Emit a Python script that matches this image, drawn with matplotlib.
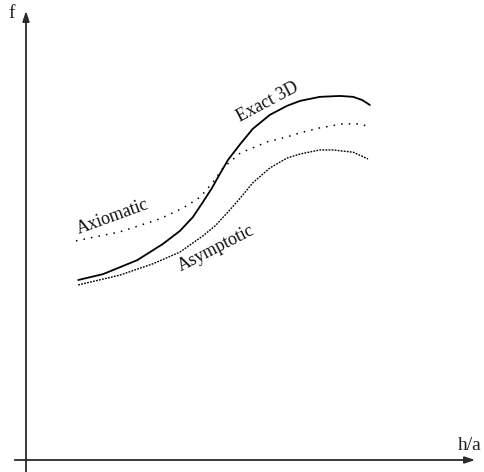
import matplotlib
matplotlib.use("Agg")
import matplotlib.pyplot as plt

# Data (arbitrary units, h/a horizontal, f vertical)
exact_x = [1.16, 1.71, 2.47, 3.04, 3.42, 3.71, 3.93, 4.13, 4.31, 4.49, 4.76, 5.04,
           5.42, 5.80, 6.09, 6.53, 6.98, 7.27, 7.47, 7.64]
exact_y = [4.00, 4.13, 4.44, 4.80, 5.09, 5.40, 5.73, 6.04, 6.36, 6.67, 7.02, 7.36,
           7.67, 7.87, 7.98, 8.07, 8.09, 8.07, 8.00, 7.89]

axiom_x = [1.11, 2.09, 2.98, 3.49, 3.87, 4.16, 4.38, 4.76, 5.36, 5.80, 6.09, 6.53,
           7.04, 7.42, 7.64]
axiom_y = [4.87, 5.07, 5.36, 5.60, 5.84, 6.18, 6.49, 6.82, 7.07, 7.18, 7.27, 7.38,
           7.47, 7.47, 7.40]

asym_x = [1.16, 2.09, 2.82, 3.42, 3.93, 4.20, 4.47, 4.76, 5.04, 5.42, 5.80, 6.09,
          6.53, 6.82, 7.27, 7.60]
asym_y = [3.89, 4.11, 4.36, 4.62, 4.98, 5.20, 5.49, 5.82, 6.16, 6.49, 6.71, 6.80,
          6.89, 6.89, 6.84, 6.69]

labels = ["Exact 3D", "Axiomatic", "Asymptotic"]
xlabel = "h/a"
ylabel = "f"

fig = plt.figure(figsize=(4.84, 4.72), dpi=100)
ax = fig.add_axes([0, 0, 1, 1])
ax.set_xlim(-26 / 45, (484 - 26) / 45)
ax.set_ylim((460 - 472) / 45, 460 / 45)
ax.axis("off")

axcol = "#2a2a2a"
# axes with arrows
ax.annotate("", xy=(0, 9.98), xytext=(0, -0.3),
            arrowprops=dict(arrowstyle="-|>,head_length=0.6,head_width=0.2",
                            color=axcol, lw=1.3, shrinkA=0, shrinkB=0))
ax.annotate("", xy=(9.98, 0), xytext=(-0.25, 0),
            arrowprops=dict(arrowstyle="-|>,head_length=0.6,head_width=0.2",
                            color=axcol, lw=1.3, shrinkA=0, shrinkB=0))

font = "Liberation Serif"
ax.text(-0.31, 9.93, ylabel, fontsize=14, family=font, ha="center", va="center", color="#222")
ax.text(9.85, 0.33, xlabel, fontsize=14, family=font, ha="center", va="center", color="#222")

ax.plot(exact_x, exact_y, color="black", lw=1.3, solid_capstyle="round",
        solid_joinstyle="round")
ax.plot(axiom_x, axiom_y, color="black", lw=1.1, linestyle=(0, (1, 4)))
ax.plot(asym_x, asym_y, color="black", lw=1.0, linestyle=(0, (1.3, 0.9)))

ax.text(5.38, 7.96, labels[0], fontsize=13, family=font, rotation=28,
        ha="center", va="center", rotation_mode="anchor", color="#111")
ax.text(1.93, 5.40, labels[1], fontsize=13, family=font, rotation=20,
        ha="center", va="center", rotation_mode="anchor", color="#111")
ax.text(4.22, 4.70, labels[2], fontsize=13, family=font, rotation=27,
        ha="center", va="center", rotation_mode="anchor", color="#111")

fig.savefig("out.png", dpi=100)
